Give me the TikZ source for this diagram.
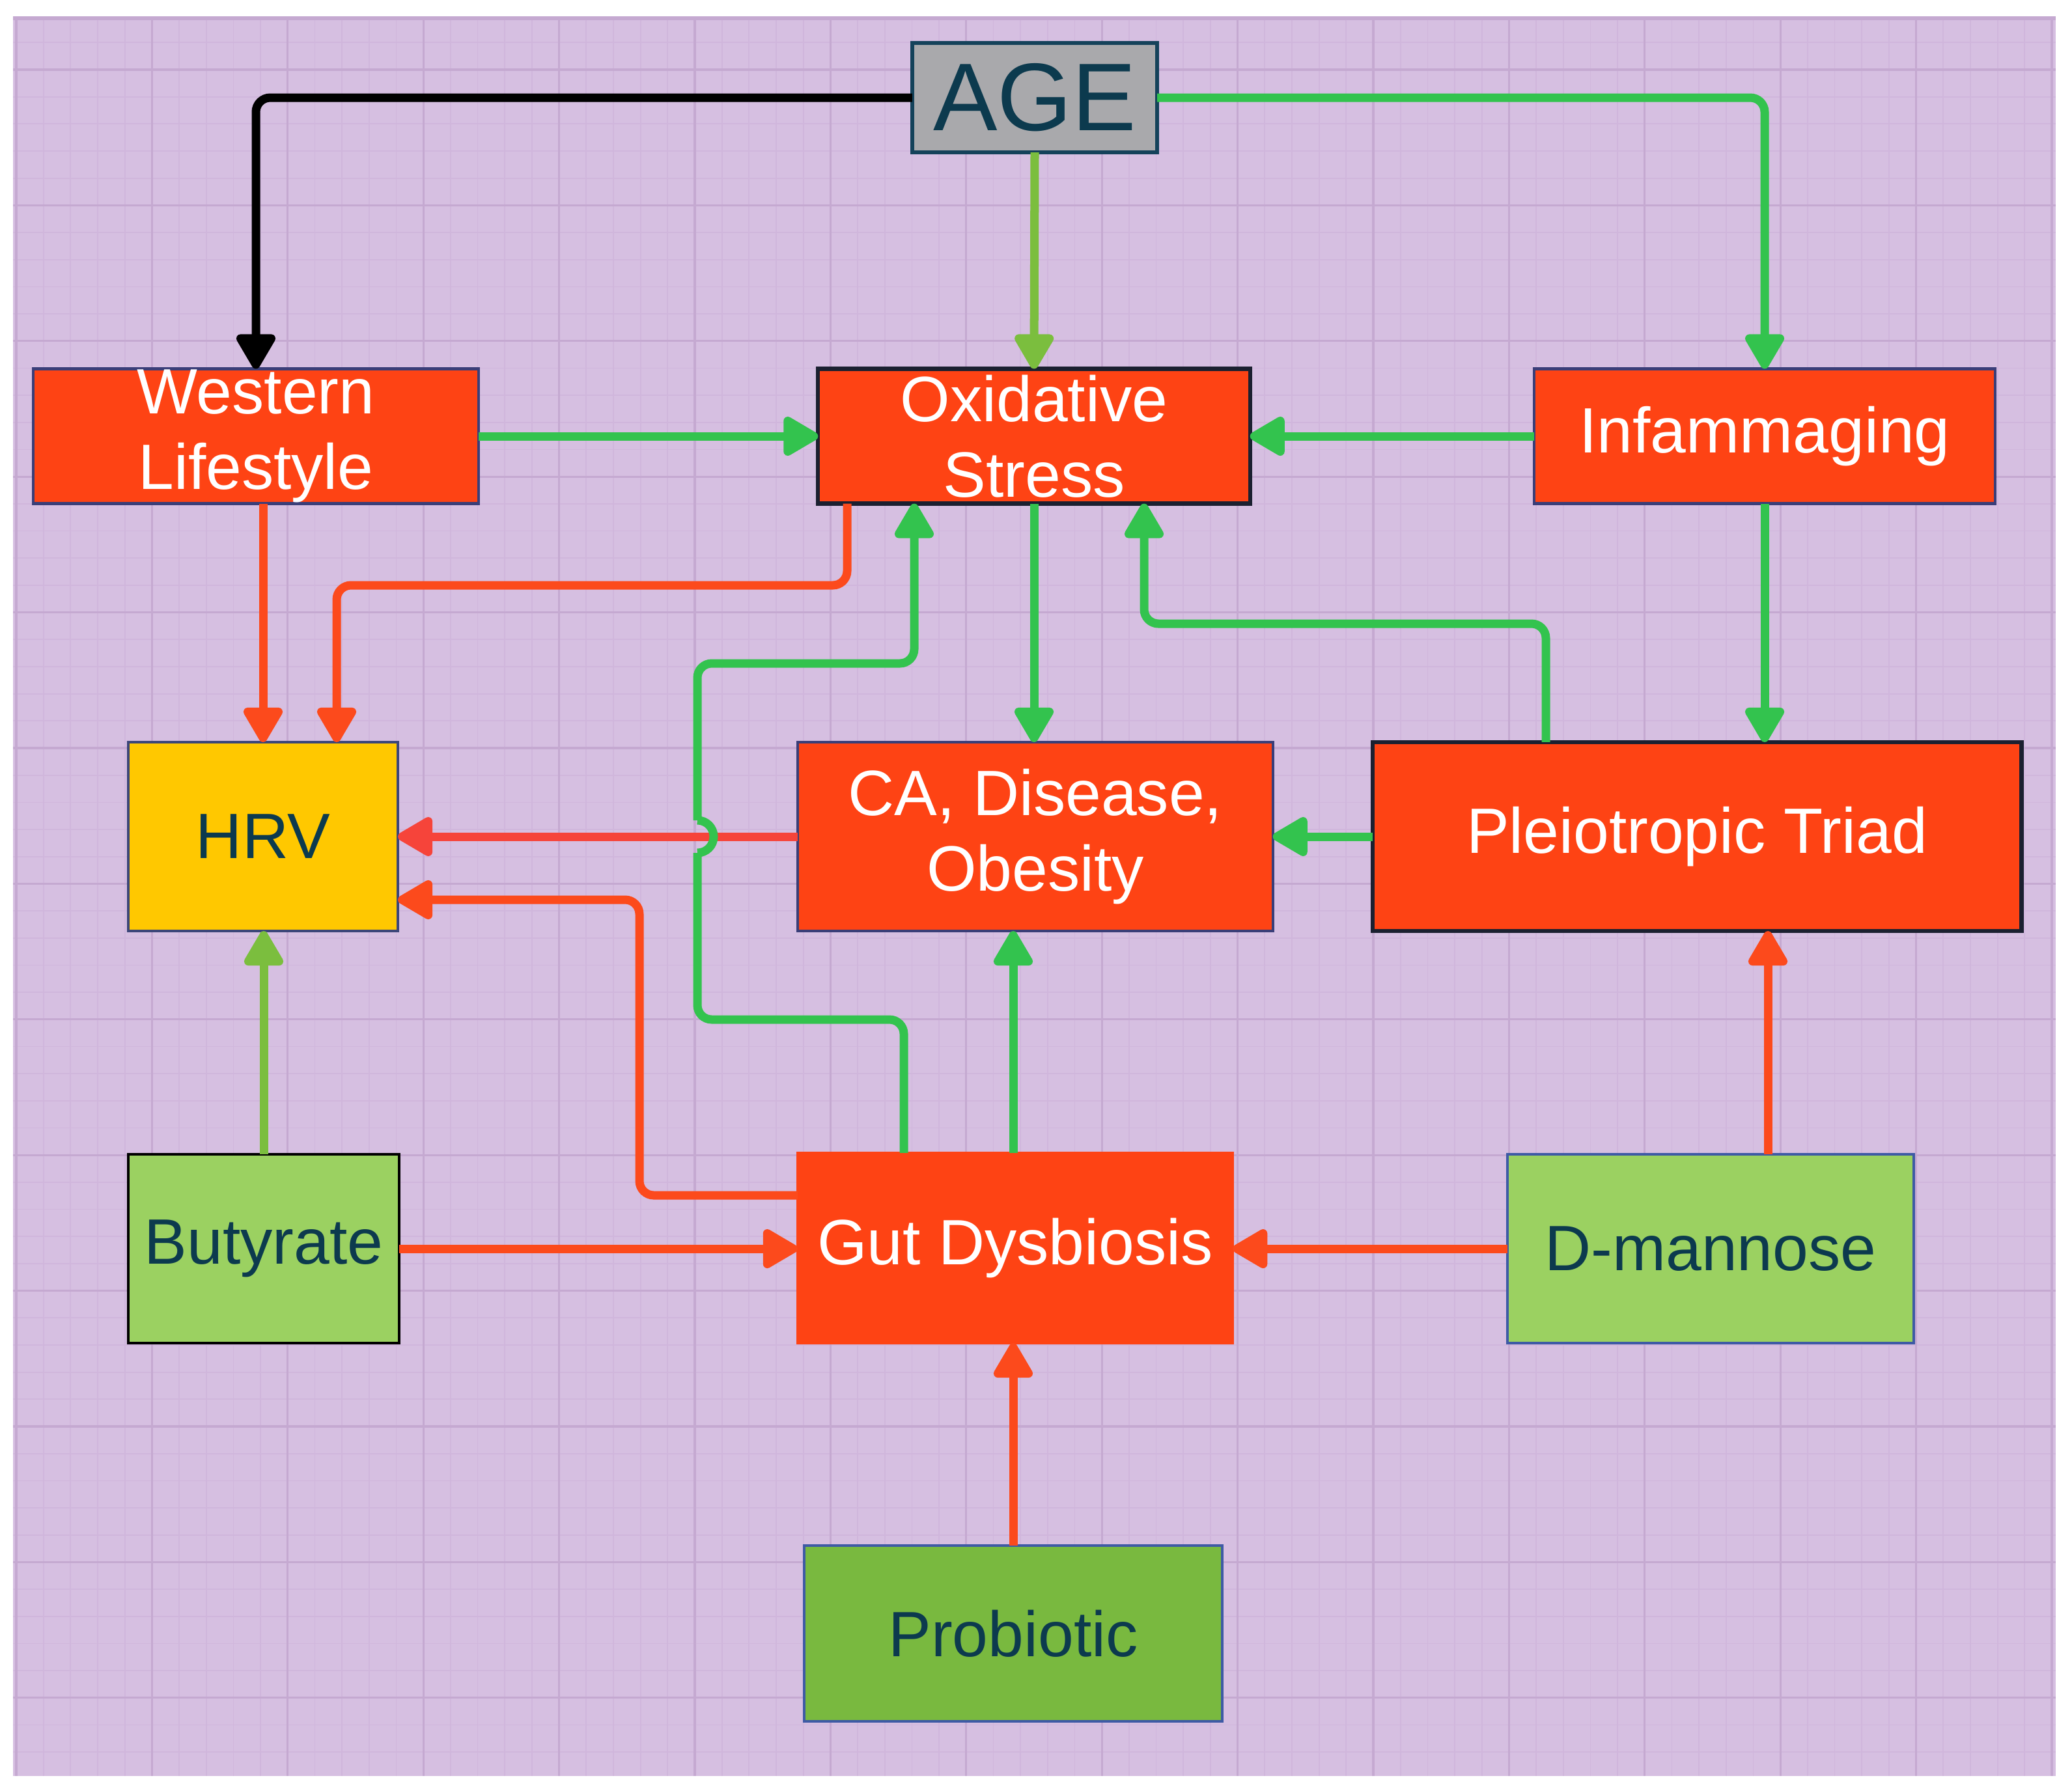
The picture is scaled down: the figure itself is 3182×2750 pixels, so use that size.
\documentclass[tikz,border=0pt]{standalone}
\usepackage{fontspec}
\setmainfont{Liberation Sans}
\usetikzlibrary{arrows.meta}
\definecolor{bgp}{HTML}{D6BFE1}
\definecolor{gmin}{HTML}{D0B6DC}
\definecolor{gmaj}{HTML}{C5A9D1}
\definecolor{nred}{HTML}{FE4314}
\definecolor{lred}{HTML}{FC4A1C}
\definecolor{pred}{HTML}{F6443A}
\definecolor{lgreen}{HTML}{33C34E}
\definecolor{colOlive}{HTML}{7BBE3E}
\definecolor{bordA}{HTML}{3A3E78}
\definecolor{bordD}{HTML}{1B2030}
\definecolor{txtD}{HTML}{0C3A4E}
\definecolor{ageF}{HTML}{A9A9AC}
\definecolor{ageB}{HTML}{14425A}
\definecolor{yel}{HTML}{FFC800}
\definecolor{lgf}{HTML}{9BD161}
\definecolor{prof}{HTML}{79B93F}
\definecolor{bordM}{HTML}{3E5AA5}
\definecolor{bordH}{HTML}{3C4679}
\tikzset{
  box/.style={draw, rectangle, line width=1.2pt, inner sep=0pt, outer sep=0pt, align=center,
    font=\fontsize{28}{33}\selectfont},
  redbox/.style={box, fill=nred, text=white, draw=bordA},
  darkred/.style={redbox, draw=bordD, line width=1.8pt},
  agebox/.style={box, fill=ageF, draw=ageB, line width=1.6pt, text=txtD, font=\fontsize{42}{46}\selectfont},
  yelbox/.style={box, fill=yel, draw=bordH, text=txtD},
  lgbox/.style={box, fill=lgf, text=txtD},
  probox/.style={box, fill=prof, draw=bordM, text=txtD},
  conn/.style={line width=0.13cm, rounded corners=0.22cm, -{Triangle[width=0.66cm,length=0.6cm,round]}},
  plain/.style={line width=0.13cm},
  gminor/.style={gmin, line width=0.5pt},
  gmajor/.style={gmaj, line width=0.9pt}
}
\begin{document}
\begin{tikzpicture}[x=0.01cm,y=-0.01cm]
\useasboundingbox (0,0) rectangle (3182,2750);
\fill[white] (0,0) rectangle (3182,2750);
\fill[bgp] (20,27) rectangle (3157,2728);
\begin{scope}
\clip (20,27) rectangle (3157,2728);
\foreach \i in {0,...,76} { \draw[gminor] ({25+41.68*\i},27) -- ({25+41.68*\i},2728); }
\foreach \j in {-2,...,63} { \draw[gminor] (20,{107+41.68*\j}) -- (3157,{107+41.68*\j}); }
\foreach \i in {0,...,15} { \draw[gmajor] ({25+208.4*\i},27) -- ({25+208.4*\i},2728); }
\foreach \j in {0,...,12} { \draw[gmajor] (20,{107+208.4*\j}) -- (3157,{107+208.4*\j}); }
\end{scope}
\draw[gmaj, line width=1.5pt] (20,28) -- (3157,28);

% nodes
\node[agebox, minimum width=3.76cm, minimum height=1.68cm] (age) at (1589,150) {AGE};
\node[redbox, minimum width=6.84cm, minimum height=2.07cm] (wl) at (393,670) {Western\\Lifestyle};
\node[darkred, minimum width=6.63cm, minimum height=2.07cm] (ox) at (1588,670) {Oxidative\\Stress};
\node[redbox, minimum width=7.08cm, minimum height=2.07cm] (inf) at (2710,670) {Infammaging};
\node[yelbox, minimum width=4.14cm, minimum height=2.90cm] (hrv) at (404,1285) {HRV};
\node[redbox, minimum width=7.29cm, minimum height=2.90cm] (ca) at (1590,1285) {CA, Disease,\\Obesity};
\node[darkred, minimum width=9.96cm, minimum height=2.90cm] (pt) at (2606,1285) {Pleiotropic Triad};
\node[lgbox, draw=black, minimum width=4.16cm, minimum height=2.90cm] (but) at (405,1918) {Butyrate};
\node[redbox, draw=nred, minimum width=6.68cm, minimum height=2.92cm] (gd) at (1559,1917) {Gut Dysbiosis};
\node[lgbox, draw=bordM, minimum width=6.23cm, minimum height=2.90cm] (dm) at (2627,1918) {D-mannose};
\node[probox, minimum width=6.41cm, minimum height=2.70cm] (pro) at (1556,2509) {Probiotic};

% connectors
\draw[conn, black] (age.west) -| (wl.north);
\draw[conn, colOlive] (age.south) -- (ox.north);
\draw[conn, lgreen] (age.east) -| (inf.north);
\draw[conn, lgreen] (wl.east) -- (wl.east -| ox.west);
\draw[conn, lgreen] (inf.west) -- (inf.west -| ox.east);
\draw[conn, lred] (wl.south -| hrv.north) -- (hrv.north);
\draw[conn, lred] (1301,0 |- ox.south) -- (1301,899) -- (517,899) -- (517,0 |- hrv.north);
\draw[conn, lgreen] (ox.south) -- (ox.south |- ca.north);
\draw[conn, lgreen] (inf.south) -- (inf.south |- pt.north);
\draw[conn, lgreen] (2374,0 |- pt.north) -- (2374,958) -- (1757,958) -- (1757,0 |- ox.south);
\draw[conn, pred] (ca.west) -- (ca.west -| hrv.east);
\draw[conn, lgreen] (pt.west) -- (pt.west -| ca.east);
\draw[conn, lred] (gd.west |- 0,1836) -- (982,1836) -- (982,1382) -- (hrv.east |- 0,1382);
\draw[conn, lgreen] (1556,0 |- gd.north) -- (1556,0 |- ca.south);
\draw[conn, colOlive] (but.north) -- (but.north |- hrv.south);
\draw[conn, lred] (but.east) -- (but.east -| gd.west);
\draw[conn, lred] (dm.west) -- (dm.west -| gd.east);
\draw[conn, lred] (2715,0 |- dm.north) -- (2715,0 |- pt.south);
\draw[conn, lred] (pro.north) -- (pro.north |- gd.south);
% green loop from Gut Dysbiosis to Oxidative Stress, hopping over the red line
\draw[plain, lgreen, rounded corners=0.22cm] (1388,0 |- gd.north) -- (1388,1566) -- (1071,1566) -- (1071,1310);
\draw[plain, lgreen] (1071,1310) arc[start angle=-90, end angle=90, radius=0.25cm];
\draw[conn, lgreen] (1071,1260) -- (1071,1019) -- (1404,1019) -- (1404,0 |- ox.south);
\end{tikzpicture}
\end{document}
